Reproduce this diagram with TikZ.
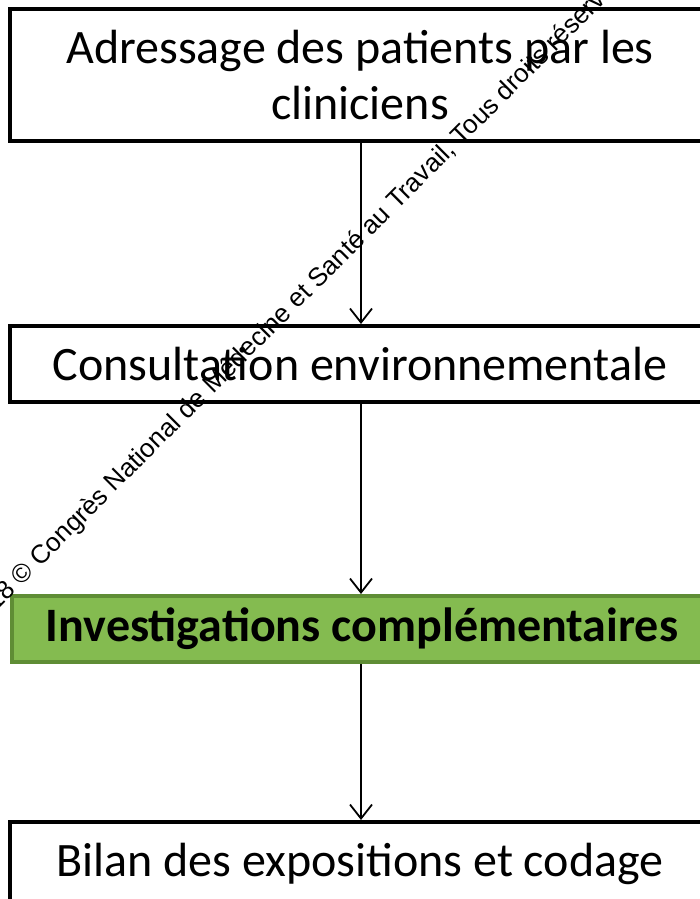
\documentclass[tikz,border=0pt]{standalone}
\usepackage{fontspec}
\setmainfont{Carlito}
\newfontfamily\markfont{Liberation Sans}
\usepackage{tikz}
\usetikzlibrary{arrows.meta}
\usepackage{xcolor}
\definecolor{vert}{HTML}{84BB50}
\definecolor{vertfonce}{HTML}{5F8D35}

\begin{document}
\begin{tikzpicture}[x=1pt, y=-1pt,
		etape/.style = {draw, line width=4pt, fill=white, minimum width=700pt, align=center, inner sep=0pt, font=\fontsize{48}{56}\selectfont},
		fleche/.style = {line width=1.8pt, -{Straight Barb[length=14pt, width=22pt, line width=1.8pt]}}]
		\useasboundingbox (0,0) rectangle (700,899);
		\node[etape, minimum height=132pt] (adr) at (360,75) {Adressage des patients par les\\ cliniciens};
		\node[etape, minimum height=76pt] (consult) at (360,364) {Consultation environnementale};
		\node[etape, minimum height=66pt, fill=vert, draw=vertfonce, font=\fontsize{48}{50}\selectfont\bfseries] (invest) at (362,629) {Investigations compl\'ementaires};
		\node[etape, minimum height=84pt] (bilan) at (360,864) {Bilan des expositions et codage};
		\coordinate (axe) at (361,0);
		\draw[fleche] (adr.south -| axe) to (consult.north -| axe);
		\draw[fleche] (consult.south -| axe) to (invest.north -| axe);
		\draw[fleche] (invest.south -| axe) to (bilan.north -| axe);
		\node[anchor=base west, rotate=45, inner sep=0pt, font=\markfont\fontsize{26}{26}\selectfont] (marque) at (-24.4,632.2) {2018 \textcopyright{} Congr\`es National de M\'edecine et Sant\'e au Travail, Tous droits r\'eserv\'es};
	\end{tikzpicture}
\end{document}
